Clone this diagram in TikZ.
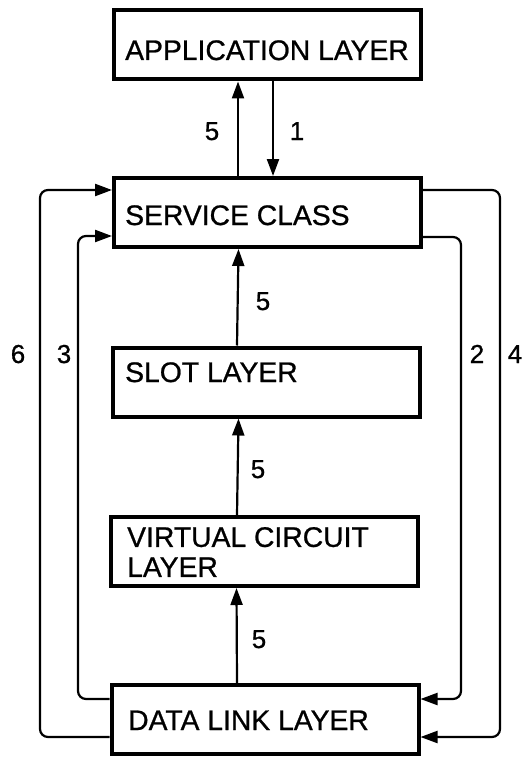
\documentclass[tikz,border=0pt]{standalone}
\usepackage{fontspec}
\setmainfont[FakeBold=0.8]{Liberation Sans}
\usetikzlibrary{arrows.meta}
\begin{document}
\begin{tikzpicture}[x=1pt,y=-1pt,
  layerbox/.style={draw, line width=4pt, inner sep=0pt, minimum width=307pt, minimum height=69pt},
  txt/.style={font=\fontsize{28.3}{30}\selectfont, inner sep=0pt, align=left},
  num/.style={font=\fontsize{26}{30}\selectfont, anchor=base, inner sep=0pt},
  conn/.style={line width=2.2pt},
  arr/.style={conn, -{Triangle[length=17pt,width=12pt]}},
  loopline/.style={arr, rounded corners=8pt}]
\useasboundingbox (0,0) rectangle (527,757);

% boxes
\node[layerbox] (app)  at (267.5,45)    {};
\node[layerbox] (svc)  at (267.5,212.5) {};
\node[layerbox] (slot) at (266,382)     {};
\node[layerbox] (vc)   at (264.5,551.5) {};
\node[layerbox] (dl)   at (265,719.5)   {};

% texts
\node[txt, anchor=base west] (appT)  at (125,60)  {APPLICATION LAYER};
\node[txt, anchor=base west] (svcT)  at (125,225) {SERVICE CLASS};
\node[txt, anchor=base west] (slotT) at (125,382) {SLOT LAYER};
\node[txt, anchor=west]      (vcT)   at (127,552) {VIRTUAL CIRCUIT\\LAYER};
\node[txt, anchor=base west] (dlT)   at (128,730) {DATA LINK LAYER};

% vertical arrows
\draw[arr] ([xshift=-29.5pt]svc.north) -- ([xshift=-29.5pt]app.south);
\draw[arr] ([xshift=5.5pt]app.south) -- ([xshift=5.5pt]svc.north);
\draw[arr] ([xshift=-29pt]slot.north) -- ([xshift=-29pt]svc.south);
\draw[arr] ([xshift=-27.5pt]vc.north) -- ([xshift=-27.5pt]slot.south);
\draw[arr] ([xshift=-28pt]dl.north) -- ([xshift=-28pt]vc.south);

% loop routing points
\coordinate (c6) at (40,450);
\coordinate (c3) at (78,450);
\coordinate (c2) at (461,450);
\coordinate (c4) at (500,450);

\draw[loopline] ([yshift=-17.5pt]dl.west) -| (c6) |- ([yshift=22.5pt]svc.west);
\draw[loopline] ([yshift=20.5pt]dl.west) -| (c3) |- ([yshift=-23.5pt]svc.west);
\draw[loopline] ([yshift=-24.5pt]svc.east) -| (c2) |- ([yshift=20.5pt]dl.east);
\draw[loopline] ([yshift=22.5pt]svc.east) -| (c4) |- ([yshift=-17.5pt]dl.east);

% numbers
\node[num] (n5a) at (212,140) {5};
\node[num] (n1)  at (297,140) {1};
\node[num] (n5b) at (263,310) {5};
\node[num] (n5c) at (258,478) {5};
\node[num] (n5d) at (259,648) {5};
\node[num] (n6)  at (18,363)  {6};
\node[num] (n3)  at (64,363)  {3};
\node[num] (n2)  at (477,363) {2};
\node[num] (n4)  at (515,363) {4};
\end{tikzpicture}
\end{document}
